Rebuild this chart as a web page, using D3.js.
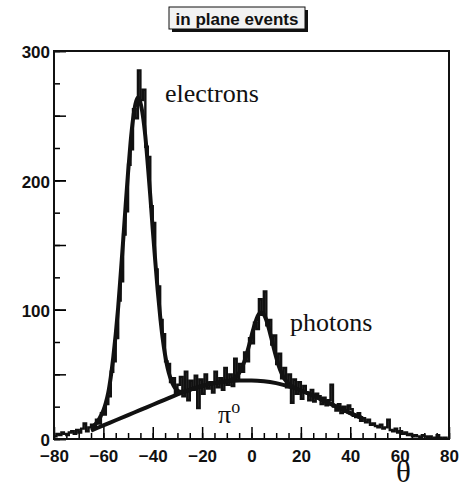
<!DOCTYPE html>
<meta charset="utf-8">
<style>
body { margin: 0; background: #fff; }
.axis path { display: none; }
.axis line { stroke: #000; stroke-width: 1.5; }
.axis text {
  font-family: "Liberation Sans", Arial, sans-serif;
  font-weight: bold;
  font-size: 17px;
  fill: #111;
}
</style>
<body>
<div id="vis-container"></div>
<script src="https://cdn.jsdelivr.net/npm/d3@7"></script>
<script>

// histogram: 1 degree bins starting at -80
var binLow = -80;
var binWidth = 1;
var counts = [
  2, 4, 3, 5, 4, 3, 5, 6, 4, 7, 5, 8, 12, 6, 9,            // -80 .. -66
  11, 8, 15, 12, 20, 19, 27, 33, 52, 60,                   // -65 .. -56
  78, 107, 122, 158, 176, 212, 224, 255, 248,              // -55 .. -47
  285, 262, 270, 226, 218, 180, 167, 131, 118,             // -46 .. -38
  92, 81, 60, 58, 44, 47, 35, 42,                          // -37 .. -30
  48, 33, 52, 30, 45, 38, 49, 24, 46, 35,                  // -29 .. -20
  50, 39, 44, 36, 52, 40, 47, 38, 55, 42,                  // -19 .. -10
  50, 41, 62, 45, 58, 52, 67, 60, 78, 74,                  // -9 .. 0
  90, 85, 108, 96, 114, 88, 92, 73, 80, 58,                // 1 .. 10
  66, 47, 55, 40, 50, 28, 46,                              // 11 .. 17
  35, 44, 31, 41, 36, 30, 38, 29, 35, 33,                  // 18 .. 27
  27, 32, 26, 30, 42, 25, 22, 27, 20, 25,                  // 28 .. 37
  21, 26, 23, 18, 17, 20, 14, 16,                          // 38 .. 45
  13, 15, 11, 12, 10, 9, 11, 8, 9, 15,                     // 46 .. 55
  7, 6, 8, 5, 6, 4, 5, 3, 4, 2,                            // 56 .. 65
  3, 2, 1, 3, 2, 1, 2, 0, 1, 3,                            // 66 .. 75
  1, 0, 1, 0                                               // 76 .. 79
];

// pi0 background curve
var bgTheta = [-65, -60, -55, -50, -45, -40, -35, -30, -25, -20, -15, -10, -5, 0, 5, 10, 15, 20, 25, 30, 35, 40, 45];
var bgValue = [6.5, 10.5, 14.5, 18.5, 22.5, 26.5, 30.5, 34.5, 38, 41, 43.2, 44.6, 45.2, 45.3, 44.7, 43.2, 40.8, 37.5, 33.5, 29, 24.5, 20, 16];

// total fit (electrons + photons + background)
var fitTheta = [-65, -64, -63, -62, -61, -60, -59, -58, -57, -56, -55, -54, -53, -52, -51, -50, -49, -48, -47, -46,
  -45, -44, -43, -42, -41, -40, -39, -38, -37, -36, -35, -34, -33, -32, -31, -30, -29, -28, -27, -26, -25,
  -20, -15, -10, -9, -8, -7, -6, -5, -4, -3, -2, -1, 0, 1, 2, 3, 4, 5, 6, 7, 8, 9, 10,
  11, 12, 13, 14, 15, 16, 17, 20, 25, 30, 35, 40, 45];
var fitValue = [8, 10, 12, 14.5, 18, 22, 28, 36, 48, 63, 81, 102, 127, 153, 180, 206, 229, 247, 259, 264,
  260, 250, 234, 212, 188, 162, 138, 115, 95, 78, 65, 55, 48, 43, 39.6, 37.6, 36.6, 36.5, 36.8, 37.4, 38.1,
  41, 43.2, 44.6, 45.2, 45.8, 46.8, 48.6, 51.1, 54.6, 59.4, 65.3, 72.3, 79.7, 86.8, 92.7, 96.6, 97.8, 96.3, 92, 85.7, 78.2, 70.5, 63.2,
  56.8, 51.6, 47.6, 44.9, 42.8, 41.3, 40.1, 37.5, 33.5, 29, 24.5, 20, 16];

var xTicks = [-80, -60, -40, -20, 0, 20, 40, 60, 80];
var yTicks = [0, 100, 200, 300];

var margin = {top: 51, right: 23, bottom: 50, left: 54},
    width = 472 - margin.left - margin.right,
    height = 489 - margin.top - margin.bottom;

var svg = d3.select("#vis-container").append("svg")
  .attr("width", 472)
  .attr("height", 489);

var g = svg.append("g")
  .attr("transform", "translate(" + margin.left + "," + margin.top + ")");

var xScale = d3.scaleLinear().domain([-80, 80]).range([0, width]);
var yScale = d3.scaleLinear().domain([0, 300]).range([height, 0]);

// title box with shadow
var tb = {x: 169, y: 7, w: 136, h: 22};
svg.append("rect")
  .attr("x", tb.x + 3).attr("y", tb.y + 3)
  .attr("width", tb.w).attr("height", tb.h)
  .attr("fill", "#111");
svg.append("rect")
  .attr("x", tb.x).attr("y", tb.y)
  .attr("width", tb.w).attr("height", tb.h)
  .attr("fill", "#f2f2f2")
  .attr("stroke", "#111")
  .attr("stroke-width", 1);
svg.append("text")
  .attr("x", tb.x + tb.w / 2)
  .attr("y", tb.y + 18)
  .attr("text-anchor", "middle")
  .style("font-family", "'Liberation Sans', Arial, sans-serif")
  .style("font-weight", "bold")
  .style("font-size", "17px")
  .attr("fill", "#111")
  .text("in plane events");

// y axis: labels every 100, ticks every 50 and 25
g.append("g").attr("class", "axis")
  .call(d3.axisLeft(yScale).tickValues(d3.range(0, 301, 25)).tickSize(-6).tickFormat(""));
g.append("g").attr("class", "axis")
  .call(d3.axisLeft(yScale).tickValues(d3.range(0, 301, 50)).tickSize(-12).tickFormat(""));
g.append("g").attr("class", "axis")
  .call(d3.axisLeft(yScale).tickValues(yTicks).tickSize(-12).tickPadding(4).tickFormat(d3.format("d")))
  .selectAll("text").attr("dy", "0.4em");

// x axis: labels every 20, ticks every 5
g.append("g").attr("class", "axis")
  .attr("transform", "translate(0," + height + ")")
  .call(d3.axisBottom(xScale).tickValues(d3.range(-80, 81, 5)).tickSize(-6).tickFormat(""));
g.append("g").attr("class", "axis")
  .attr("transform", "translate(0," + height + ")")
  .call(d3.axisBottom(xScale).tickValues(xTicks).tickSize(-12).tickPadding(11).tickFormat(d3.format("d")));

// frame
g.append("rect")
  .attr("width", width).attr("height", height)
  .attr("fill", "none")
  .attr("stroke", "#111")
  .attr("stroke-width", 2);

g.append("clipPath").attr("id", "frame")
  .append("rect").attr("width", width).attr("height", height);

// histogram as a step line
var steps = [];
counts.forEach(function(c, i) {
  var lo = binLow + i * binWidth;
  steps.push([lo, c]);
  steps.push([lo + binWidth, c]);
});

var line = d3.line()
  .x(function(d) { return xScale(d[0]); })
  .y(function(d) { return yScale(d[1]); });

g.append("path")
  .attr("clip-path", "url(#frame)")
  .attr("d", line(steps))
  .attr("fill", "none")
  .attr("stroke", "#111")
  .attr("stroke-width", 2.4);

// fit curves
var curve = d3.line()
  .curve(d3.curveMonotoneX)
  .x(function(d) { return xScale(d[0]); })
  .y(function(d) { return yScale(d[1]); });

g.append("path")
  .attr("d", curve(d3.zip(bgTheta, bgValue)))
  .attr("fill", "none")
  .attr("stroke", "#111")
  .attr("stroke-width", 4);

g.append("path")
  .attr("d", curve(d3.zip(fitTheta, fitValue)))
  .attr("fill", "none")
  .attr("stroke", "#111")
  .attr("stroke-width", 4);

// labels
var serif = "'Liberation Serif', 'Times New Roman', serif";
svg.append("text").attr("x", 165).attr("y", 102)
  .style("font-family", serif).style("font-size", "26px").attr("fill", "#111")
  .text("electrons");
svg.append("text").attr("x", 290).attr("y", 331)
  .style("font-family", serif).style("font-size", "26px").attr("fill", "#111")
  .text("photons");
var pi = svg.append("text").attr("x", 218).attr("y", 423)
  .style("font-family", serif).style("font-size", "26px").attr("fill", "#111");
pi.append("tspan").text("π");
pi.append("tspan").attr("dy", -10).style("font-size", "18px").text("o");
svg.append("text").attr("x", 396).attr("y", 482)
  .style("font-family", serif).style("font-size", "31px").attr("fill", "#111")
  .text("θ");

</script>
</body>
</html>
